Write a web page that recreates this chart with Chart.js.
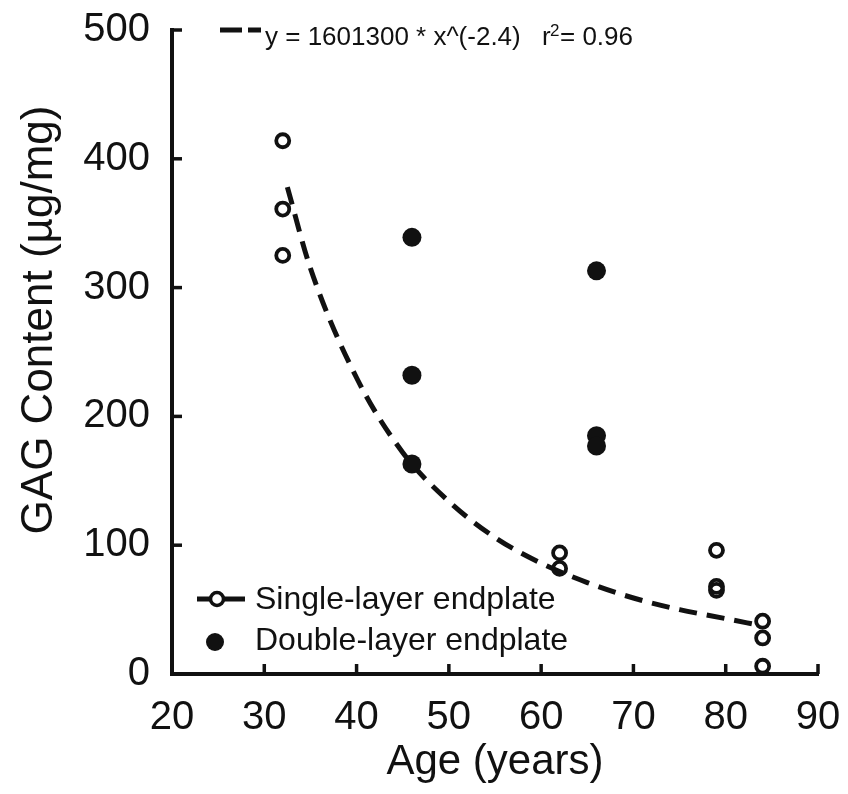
<!DOCTYPE html>
<html>
<head>
<meta charset="utf-8">
<script src="https://cdn.jsdelivr.net/npm/chart.js@4/dist/chart.umd.min.js"></script>
<style>
  html, body { margin: 0; padding: 0; background: #fff; }
  #wrap { width: 848px; height: 794px; }
</style>
</head>
<body>
<div id="wrap"><canvas id="gagChart" width="848" height="794"></canvas></div>
<script>
// 単層エンドプレート（白丸）
const ageSingle = [32, 32, 32, 62, 62, 79, 79, 79, 84, 84, 84];
const gagSingle = [414, 361, 325, 94, 82, 96, 68, 65, 41, 28, 6];

// 二層エンドプレート（黒丸）
const ageDouble = [46, 46, 46, 66, 66, 66];
const gagDouble = [339, 232, 163, 313, 185, 177];

// 近似曲線
const fitAge = [32.5, 35, 40, 45, 50, 55, 60, 65, 70, 75, 80, 83.5];
const fitGag = [378, 315, 230, 172, 134, 106, 86, 71, 59, 50, 43, 38];

const fitLabel = 'y = 1601300 * x^(-2.4)';
const r2Label = '0.96';
const singleLabel = 'Single-layer endplate';
const doubleLabel = 'Double-layer endplate';
const xTitle = 'Age (years)';
const yTitle = 'GAG Content (µg/mg)';

const FONT = '"Liberation Sans", Arial, sans-serif';
const INK = '#111';

function toPoints(xs, ys) {
    return xs.map((x, i) => ({ x: x, y: ys[i] }));
}

// 内向きの目盛り、凡例、縦軸タイトルを描く
const decorPlugin = {
    id: 'decor',
    afterDraw(chart) {
        const ctx = chart.ctx;
        const area = chart.chartArea;
        const xs = chart.scales.x;
        const ys = chart.scales.y;

        ctx.save();
        ctx.strokeStyle = INK;
        ctx.lineWidth = 3.5;
        xs.ticks.forEach(t => {
            const px = xs.getPixelForValue(t.value);
            ctx.beginPath();
            ctx.moveTo(px, area.bottom);
            ctx.lineTo(px, area.bottom - 10);
            ctx.stroke();
        });
        ys.ticks.forEach(t => {
            const py = ys.getPixelForValue(t.value);
            ctx.beginPath();
            ctx.moveTo(area.left, py);
            ctx.lineTo(area.left + 10, py);
            ctx.stroke();
        });
        ctx.restore();

        // 縦軸タイトル
        ctx.save();
        ctx.fillStyle = INK;
        ctx.font = '44px ' + FONT;
        ctx.textAlign = 'center';
        ctx.textBaseline = 'alphabetic';
        ctx.translate(52, 320);
        ctx.rotate(-Math.PI / 2);
        ctx.fillText(yTitle, 0, 0);
        ctx.restore();

        // 上の凡例（近似式）
        ctx.save();
        ctx.strokeStyle = INK;
        ctx.lineWidth = 5;
        ctx.setLineDash([22, 6]);
        ctx.beginPath();
        ctx.moveTo(220, 30);
        ctx.lineTo(261, 30);
        ctx.stroke();
        ctx.setLineDash([]);
        ctx.fillStyle = INK;
        ctx.font = '26px ' + FONT;
        ctx.textAlign = 'left';
        ctx.textBaseline = 'alphabetic';
        ctx.fillText(fitLabel, 265, 45);
        ctx.fillText('r', 542, 45);
        ctx.font = '17px ' + FONT;
        ctx.fillText('2', 550, 36);
        ctx.font = '26px ' + FONT;
        ctx.fillText('= ' + r2Label, 560, 45);
        ctx.restore();

        // 下の凡例
        ctx.save();
        ctx.strokeStyle = INK;
        ctx.fillStyle = INK;
        ctx.lineWidth = 5;
        ctx.beginPath();
        ctx.moveTo(197, 599);
        ctx.lineTo(245, 599);
        ctx.stroke();
        ctx.fillStyle = '#fff';
        ctx.lineWidth = 3.5;
        ctx.beginPath();
        ctx.arc(217, 599, 6.5, 0, Math.PI * 2);
        ctx.fill();
        ctx.stroke();
        ctx.fillStyle = INK;
        ctx.beginPath();
        ctx.arc(215, 642, 9, 0, Math.PI * 2);
        ctx.fill();
        ctx.font = '32px ' + FONT;
        ctx.textAlign = 'left';
        ctx.fillText(singleLabel, 255, 609);
        ctx.fillText(doubleLabel, 255, 650);
        ctx.restore();
    }
};

const ctx = document.getElementById('gagChart').getContext('2d');
new Chart(ctx, {
    type: 'scatter',
    data: {
        datasets: [
            {
                label: singleLabel,
                data: toPoints(ageSingle, gagSingle),
                pointStyle: 'circle',
                pointRadius: 6.5,
                pointBorderWidth: 3.8,
                borderColor: INK,
                backgroundColor: 'rgba(255,255,255,0)'
            },
            {
                label: doubleLabel,
                data: toPoints(ageDouble, gagDouble),
                pointStyle: 'circle',
                pointRadius: 9.5,
                pointBorderWidth: 0,
                borderColor: INK,
                backgroundColor: INK
            },
            {
                label: fitLabel,
                data: toPoints(fitAge, fitGag),
                showLine: true,
                pointRadius: 0,
                borderColor: INK,
                borderWidth: 5,
                borderDash: [18, 10],
                cubicInterpolationMode: 'monotone',
                fill: false
            }
        ]
    },
    plugins: [decorPlugin],
    options: {
        responsive: false,
        animation: false,
        events: [],
        layout: {
            padding: { top: 30, right: 30, bottom: 0, left: 0 }
        },
        scales: {
            x: {
                type: 'linear',
                min: 20,
                max: 90,
                afterFit: (scale) => {
                    scale.height = 120;
                    scale.paddingLeft = 0;
                    scale.paddingRight = 0;
                },
                grid: { display: false, drawTicks: false },
                border: { display: true, color: INK, width: 4 },
                ticks: {
                    stepSize: 10,
                    padding: 20,
                    color: INK,
                    font: { family: FONT, size: 40 }
                },
                title: {
                    display: true,
                    text: xTitle,
                    color: INK,
                    font: { family: FONT, size: 42 },
                    padding: { top: 0, bottom: 6 }
                }
            },
            y: {
                type: 'linear',
                min: 0,
                max: 500,
                afterFit: (scale) => {
                    scale.width = 172;
                    scale.paddingTop = 0;
                    scale.paddingBottom = 0;
                },
                grid: { display: false, drawTicks: false },
                border: { display: true, color: INK, width: 4 },
                ticks: {
                    stepSize: 100,
                    padding: 22,
                    color: INK,
                    font: { family: FONT, size: 40 }
                }
            }
        },
        plugins: {
            legend: { display: false },
            tooltip: { enabled: false },
            title: { display: false }
        }
    }
});
</script>
</body>
</html>
